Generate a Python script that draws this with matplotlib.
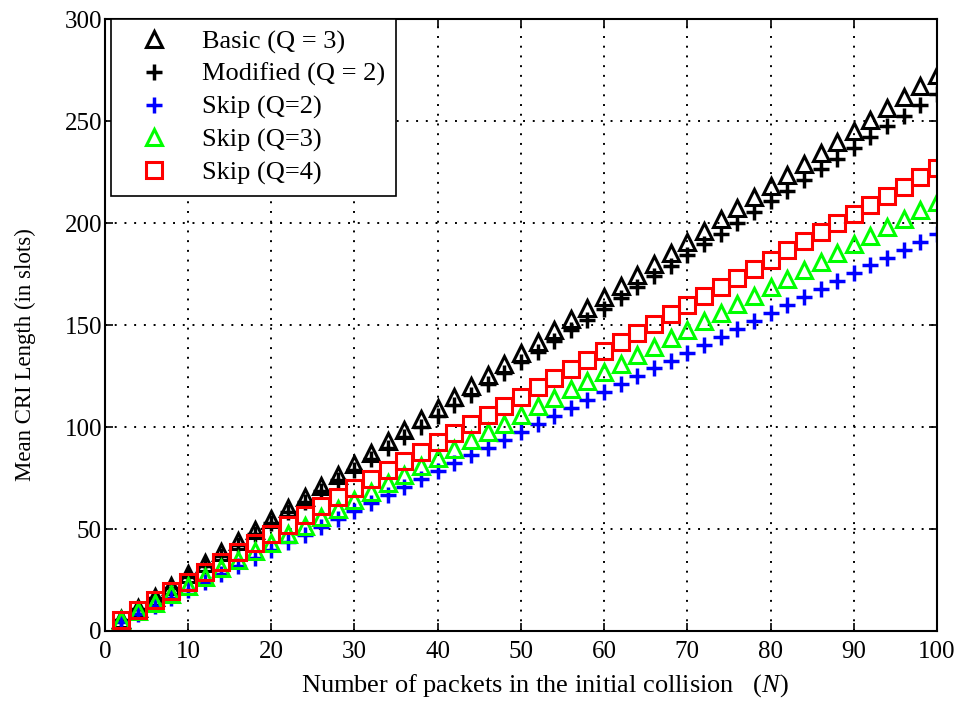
import matplotlib.pyplot as plt
import numpy as np

# Number of packets in the initial collision
n_packets = np.arange(2, 101, 2)

basic_q3 = [5.9, 11.4, 16.8, 22.3, 27.7, 33.1, 38.6, 44.0, 49.5, 54.9,
            60.3, 65.8, 71.2, 76.7, 82.1, 87.5, 93.0, 98.4, 103.9, 109.3,
            114.7, 120.2, 125.6, 131.1, 136.5, 141.9, 147.4, 152.8, 158.3, 163.7,
            169.1, 174.6, 180.0, 185.5, 190.9, 196.3, 201.8, 207.2, 212.7, 218.1,
            223.5, 229.0, 234.4, 239.9, 245.3, 250.7, 256.2, 261.6, 267.1, 272.5]

modified_q2 = [5.5, 10.7, 16.0, 21.2, 26.5, 31.8, 37.0, 42.3, 47.5, 52.8,
               58.1, 63.3, 68.6, 73.8, 79.1, 84.4, 89.6, 94.9, 100.1, 105.4,
               110.7, 115.9, 121.2, 126.4, 131.7, 137.0, 142.2, 147.5, 152.7, 158.0,
               163.3, 168.5, 173.8, 179.0, 184.3, 189.6, 194.8, 200.1, 205.3, 210.6,
               215.9, 221.1, 226.4, 231.6, 236.9, 242.2, 247.4, 252.7, 257.9, 263.2]

skip_q2 = [4.6, 8.5, 12.3, 16.2, 20.1, 24.0, 27.9, 31.7, 35.6, 39.5,
           43.4, 47.3, 51.1, 55.0, 58.9, 62.8, 66.7, 70.5, 74.4, 78.3,
           82.2, 86.1, 89.9, 93.8, 97.7, 101.6, 105.5, 109.3, 113.2, 117.1,
           121.0, 124.9, 128.7, 132.6, 136.5, 140.4, 144.3, 148.1, 152.0, 155.9,
           159.8, 163.7, 167.5, 171.4, 175.3, 179.2, 183.1, 186.9, 190.8, 194.7]

skip_q3 = [5.6, 9.8, 13.9, 18.1, 22.3, 26.5, 30.7, 34.8, 39.0, 43.2,
           47.4, 51.6, 55.7, 59.9, 64.1, 68.3, 72.5, 76.6, 80.8, 85.0,
           89.2, 93.4, 97.5, 101.7, 105.9, 110.1, 114.3, 118.4, 122.6, 126.8,
           131.0, 135.2, 139.3, 143.5, 147.7, 151.9, 156.1, 160.2, 164.4, 168.6,
           172.8, 177.0, 181.1, 185.3, 189.5, 193.7, 197.9, 202.0, 206.2, 210.4]

skip_q4 = [5.6, 10.4, 15.0, 19.5, 24.2, 29.0, 33.8, 38.5, 43.2, 47.7,
           52.2, 56.7, 61.1, 65.6, 70.1, 74.6, 79.1, 83.5, 88.0, 92.5,
           97.0, 101.5, 105.9, 110.4, 114.9, 119.4, 123.9, 128.3, 132.8, 137.3,
           141.8, 146.3, 150.7, 155.2, 159.7, 164.2, 168.7, 173.1, 177.6, 182.1,
           186.6, 191.1, 195.5, 200.0, 204.5, 209.0, 213.5, 217.9, 222.4, 226.9]

plt.rcParams['font.family'] = ['Liberation Serif', 'DejaVu Serif']
plt.rcParams['mathtext.fontset'] = 'custom'
plt.rcParams['mathtext.it'] = 'Liberation Serif:italic'
plt.rcParams['mathtext.rm'] = 'Liberation Serif'

fig = plt.figure(figsize=(9.7, 7.07), dpi=100)
ax = fig.add_axes([0.108, 0.1075, 0.858, 0.8655])

ax.plot(n_packets, basic_q3, linestyle='none', marker='^', markersize=12,
        markerfacecolor='none', markeredgecolor='black', markeredgewidth=2.2,
        label='Basic (Q = 3)')
ax.plot(n_packets, modified_q2, linestyle='none', marker='+', markersize=11,
        markeredgecolor='black', markeredgewidth=2.5, label='Modified (Q = 2)')
ax.plot(n_packets, skip_q2, linestyle='none', marker='+', markersize=11,
        markeredgecolor='blue', markeredgewidth=2.5, label='Skip (Q=2)')
ax.plot(n_packets, skip_q3, linestyle='none', marker='^', markersize=12,
        markerfacecolor='none', markeredgecolor='#00ff00', markeredgewidth=2.2,
        label='Skip (Q=3)')
ax.plot(n_packets, skip_q4, linestyle='none', marker='s', markersize=12,
        markerfacecolor='none', markeredgecolor='red', markeredgewidth=2.2,
        label='Skip (Q=4)')

ax.set_xlim(0, 100)
ax.set_ylim(0, 300)
ax.set_xticks(np.arange(0, 101, 10))
ax.set_yticks(np.arange(0, 301, 50))
ax.tick_params(direction='in', top=True, right=True, length=6, width=1.2,
               labelsize=18)
ax.tick_params(axis='y', pad=2)
ax.tick_params(axis='x', pad=7)
for spine in ax.spines.values():
    spine.set_linewidth(1.5)

ax.grid(True, color='black', linestyle=(0, (1, 4)), linewidth=1.4)

ax.set_xlabel('Number of packets in the initial collision   ($\\mathit{N}$)',
              fontsize=19, va='top')
ax.xaxis.set_label_coords(0.529, -0.067)
ax.set_ylabel('Mean CRI Length (in slots)', fontsize=16.5)
ax.yaxis.set_label_coords(-0.083, 0.452)

leg = ax.legend(loc='upper left', bbox_to_anchor=(0.008, 1.0), numpoints=1,
                fontsize=19, frameon=True, fancybox=False, borderaxespad=0,
                handletextpad=0.6, labelspacing=0.34, borderpad=0.4,
                handlelength=2.45)
leg.get_frame().set_edgecolor('black')
leg.get_frame().set_linewidth(1.2)
leg.get_frame().set_alpha(1)

fig.savefig('out.png', dpi=100)
